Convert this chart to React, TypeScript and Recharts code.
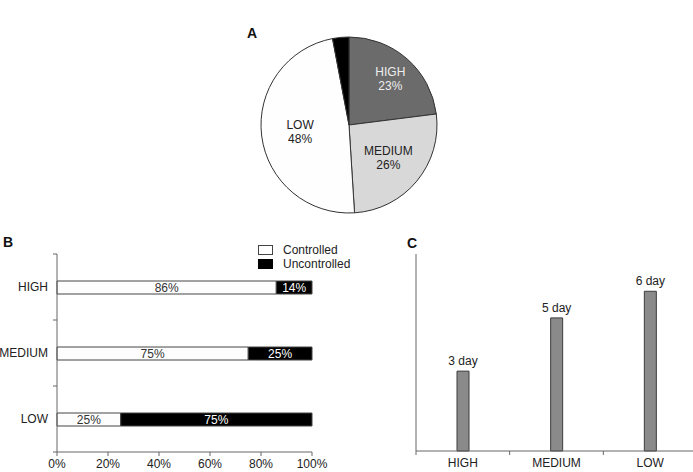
import React from "react";
import {
  PieChart,
  Pie,
  Cell,
  BarChart,
  Bar,
  XAxis,
  YAxis,
  LabelList,
} from "recharts";

// panel A: share of patients per risk group
const pieNames = ["HIGH", "MEDIUM", "LOW", ""];
const pieShares = [23, 26, 48, 3];

// panel B: controlled vs uncontrolled per risk group
const riskGroups = ["HIGH", "MEDIUM", "LOW"];
const controlledPct = [86, 75, 25];
const uncontrolledPct = [14, 25, 75];
const pctTicks = [0, 20, 40, 60, 80, 100];

// panel C: days until control
const daysToControl = [3, 5, 6];

const FONT = '"Liberation Sans", Arial, sans-serif';
const AXIS = "#666";
const INK = "#222";

const pieColors = ["#6b6b6b", "#d8d8d8", "#fefefe", "#000"];
const pieLabelInk = ["#eeeeee", INK, INK, INK];
const pieLabelRadius = [0.71, 0.58, 0.56, 0];

const pieData = pieNames.map((name, i) => ({ name, value: pieShares[i] }));
const splitData = riskGroups.map((name, i) => ({
  name,
  controlled: controlledPct[i],
  uncontrolled: uncontrolledPct[i],
}));
const daysData = riskGroups.map((name, i) => ({ name, days: daysToControl[i] }));

const RAD = Math.PI / 180;

function PieLabel(props: any) {
  const { cx, cy, midAngle, outerRadius, index } = props;
  if (!pieNames[index]) return null;
  const r = outerRadius * pieLabelRadius[index];
  const x = cx + r * Math.cos(-midAngle * RAD);
  const y = cy + r * Math.sin(-midAngle * RAD);
  return (
    <text x={x} y={y} textAnchor="middle" fontSize={12} fill={pieLabelInk[index]}>
      <tspan x={x} dy="-0.2em">{pieNames[index]}</tspan>
      <tspan x={x} dy="1.15em">{pieShares[index]}%</tspan>
    </text>
  );
}

// plain label above a bar, no wrapping to bar width
function DayLabel(props: any) {
  const { x, y, width, value } = props;
  return (
    <text x={x + width / 2} y={y - 6} textAnchor="middle" fontSize={12} fill={INK}>
      {value} day
    </text>
  );
}

const TS = 4; // tick size
const TM = 5; // tick margin

// category tick with its mark on the band edges instead of the centre
function BandTickY(props: any) {
  const { x, y, payload, index, visibleTicksCount } = props;
  const half = payload.offset || 33;
  const ax = x + TS + TM;
  return (
    <g>
      <text x={x} y={y} dy="0.35em" textAnchor="end" fontSize={12} fill={INK}>
        {payload.value}
      </text>
      <line x1={ax - TS} x2={ax} y1={y - half} y2={y - half} stroke={AXIS} />
      {index === visibleTicksCount - 1 && (
        <line x1={ax - TS} x2={ax} y1={y + half} y2={y + half} stroke={AXIS} />
      )}
    </g>
  );
}

function BandTickX(props: any) {
  const { x, y, payload, index, visibleTicksCount } = props;
  const half = payload.offset || 46.5;
  const ay = y - TS - 3;
  return (
    <g>
      <text x={x} y={y} dy="0.71em" textAnchor="middle" fontSize={12} fill={INK}>
        {payload.value}
      </text>
      <line x1={x - half} x2={x - half} y1={ay} y2={ay + TS} stroke={AXIS} />
      {index === visibleTicksCount - 1 && (
        <line x1={x + half} x2={x + half} y1={ay} y2={ay + TS} stroke={AXIS} />
      )}
    </g>
  );
}

const panelTitle: React.CSSProperties = {
  position: "absolute",
  fontWeight: "bold",
  fontSize: 14,
  color: "#111",
  lineHeight: "14px",
};

export default function App() {
  return (
    <div
      style={{
        position: "absolute",
        left: 0,
        top: 0,
        width: 693,
        height: 472,
        overflow: "hidden",
        background: "#fff",
        fontFamily: FONT,
      }}
    >
      <div style={{ ...panelTitle, left: 247, top: 26 }}>A</div>
      <div style={{ ...panelTitle, left: 3, top: 235 }}>B</div>
      <div style={{ ...panelTitle, left: 407, top: 236 }}>C</div>

      {/* A */}
      <div style={{ position: "absolute", left: 230, top: 20 }}>
        <PieChart width={240} height={210} margin={{ top: 0, right: 0, bottom: 0, left: 0 }}>
          <Pie
            data={pieData}
            dataKey="value"
            cx={119}
            cy={105}
            outerRadius={88}
            startAngle={90}
            endAngle={-270}
            stroke="#333"
            strokeWidth={1}
            label={PieLabel}
            labelLine={false}
            isAnimationActive={false}
          >
            {pieData.map((d, i) => (
              <Cell key={d.name + i} fill={pieColors[i]} />
            ))}
          </Pie>
        </PieChart>
      </div>

      {/* B */}
      <div style={{ position: "absolute", left: 0, top: 230 }}>
        <BarChart
          width={340}
          height={242}
          layout="vertical"
          data={splitData}
          margin={{ top: 24, right: 28, bottom: 0, left: 0 }}
        >
          <XAxis
            type="number"
            domain={[0, 100]}
            ticks={pctTicks}
            tickFormatter={(v) => `${v}%`}
            height={20}
            tickSize={TS}
            tickMargin={3}
            stroke={AXIS}
            tick={{ fill: INK, fontSize: 12 }}
            interval={0}
          />
          <YAxis
            type="category"
            dataKey="name"
            width={57}
            tickSize={TS}
            tickMargin={TM}
            tickLine={false}
            stroke={AXIS}
            tick={<BandTickY />}
            interval={0}
          />
          <Bar dataKey="controlled" stackId="s" fill="#fdfdfd" stroke="#444" barSize={13} isAnimationActive={false}>
            <LabelList dataKey="controlled" position="center" formatter={(v: any) => `${v}%`} fill="#333" fontSize={12} />
          </Bar>
          <Bar dataKey="uncontrolled" stackId="s" fill="#000" stroke="#444" barSize={13} isAnimationActive={false}>
            <LabelList dataKey="uncontrolled" position="center" formatter={(v: any) => `${v}%`} fill="#fff" fontSize={12} />
          </Bar>
        </BarChart>
      </div>

      {/* B legend */}
      <div style={{ position: "absolute", left: 258, top: 243, fontSize: 12, color: INK, lineHeight: "14px" }}>
        <div style={{ display: "flex", alignItems: "center" }}>
          <span style={{ width: 13, height: 8, border: "1px solid #444", background: "#fff", marginRight: 10 }} />
          Controlled
        </div>
        <div style={{ display: "flex", alignItems: "center" }}>
          <span style={{ width: 15, height: 10, background: "#000", marginRight: 10 }} />
          Uncontrolled
        </div>
      </div>

      {/* C */}
      <div style={{ position: "absolute", left: 400, top: 230 }}>
        <BarChart
          width={300}
          height={242}
          data={daysData}
          margin={{ top: 24, right: 3, bottom: 0, left: 0 }}
        >
          <XAxis
            dataKey="name"
            height={21}
            tickSize={TS}
            tickMargin={3}
            tickLine={false}
            stroke={AXIS}
            tick={<BandTickX />}
            interval={0}
          />
          <YAxis
            type="number"
            domain={[0, 7.4]}
            width={16}
            tick={false}
            tickLine={false}
            stroke={AXIS}
          />
          <Bar dataKey="days" fill="#8a8a8a" stroke="#3c3c3c" barSize={12} isAnimationActive={false}>
            <LabelList dataKey="days" content={DayLabel} />
          </Bar>
        </BarChart>
      </div>
    </div>
  );
}
